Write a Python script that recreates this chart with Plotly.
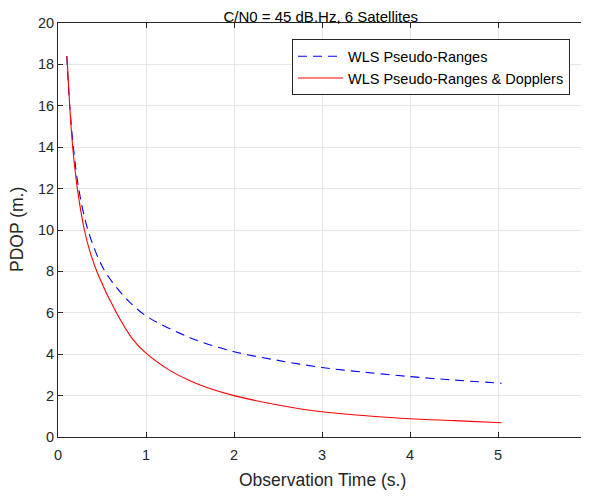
import plotly.graph_objects as go

# Observation time (s.) and PDOP (m.) values
t_pr = [0.10, 0.133, 0.175, 0.235, 0.34, 0.52, 0.75, 1.0, 1.5, 2.0, 2.5, 3.0, 3.5, 4.0, 4.5, 5.04]
pdop_pr = [18.4, 16.0, 14.0, 12.0, 10.0, 8.1, 6.8, 5.85, 4.8, 4.12, 3.7, 3.36, 3.12, 2.92, 2.75, 2.6]

t_prd = [0.10, 0.107, 0.133, 0.167, 0.22, 0.30, 0.36, 0.455, 0.664, 0.85, 1.0, 1.27, 1.5, 1.7, 2.0, 2.5, 3.0, 3.5, 4.0, 4.5, 5.04]
pdop_prd = [18.4, 18.0, 16.0, 14.0, 12.0, 10.0, 9.0, 7.85, 6.0, 4.72, 4.05, 3.22, 2.72, 2.38, 2.0, 1.55, 1.22, 1.03, 0.88, 0.79, 0.69]

x_ticks = [0, 1, 2, 3, 4, 5, 6]
y_ticks = [0, 2, 4, 6, 8, 10, 12, 14, 16, 18, 20]

title_text = "C/N0 = 45 dB.Hz, 6 Satellites"
x_title = "Observation Time (s.)"
y_title = "PDOP (m.)"
name_pr = "WLS Pseudo-Ranges"
name_prd = "WLS Pseudo-Ranges & Dopplers"

FONT = "Liberation Sans, Arial, sans-serif"
AX = "#262626"

fig = go.Figure()
fig.add_trace(go.Scatter(
    x=t_pr, y=pdop_pr, mode="lines", name=name_pr,
    line=dict(color="#0000ff", width=1.1, dash="9px,6px", shape="spline", smoothing=0.9),
))
fig.add_trace(go.Scatter(
    x=t_prd, y=pdop_prd, mode="lines", name=name_prd,
    line=dict(color="#ff0000", width=1.1, shape="spline", smoothing=0.9),
))

axis_common = dict(
    showline=True, linecolor=AX, linewidth=1, mirror="ticks",
    ticks="inside", ticklen=5, tickcolor=AX, tickwidth=1,
    showgrid=True, gridcolor="#e5e5e5", gridwidth=1,
    zeroline=False, automargin=False,
    tickfont=dict(family=FONT, size=14.5, color=AX),
)

fig.update_layout(
    width=589, height=498,
    margin=dict(l=50, r=11, t=15, b=69),
    paper_bgcolor="white", plot_bgcolor="white",
    font=dict(family=FONT, color=AX),
    title=dict(text=title_text, x=0.531, xanchor="center", y=1 - 8.5 / 498,
               yanchor="middle", yref="container",
               font=dict(family=FONT, size=15, color="#000000")),
    xaxis=dict(range=[0, 6], tickvals=x_ticks, ticktext=[str(v) for v in x_ticks],
               ticklabelstandoff=5, **axis_common),
    yaxis=dict(range=[0, 20], tickvals=y_ticks, ticktext=[str(v) for v in y_ticks],
               **axis_common),
    annotations=[
        dict(text=x_title, xref="paper", yref="paper", x=0.5, y=0,
             xanchor="center", yanchor="middle", yshift=-43, showarrow=False,
             font=dict(family=FONT, size=17.5, color=AX)),
        dict(text=y_title, xref="paper", yref="paper", x=0, y=0.5,
             xanchor="center", yanchor="middle", xshift=-41, textangle=-90,
             showarrow=False, font=dict(family=FONT, size=17.5, color=AX)),
    ],
    legend=dict(x=0.9697, xanchor="right", y=0.9607, yanchor="top",
                bgcolor="white", bordercolor="#262626", borderwidth=1,
                font=dict(family=FONT, size=14.5, color="#000000"),
                itemwidth=45, tracegroupgap=0),
    showlegend=True,
)

fig.write_html("out.html")
